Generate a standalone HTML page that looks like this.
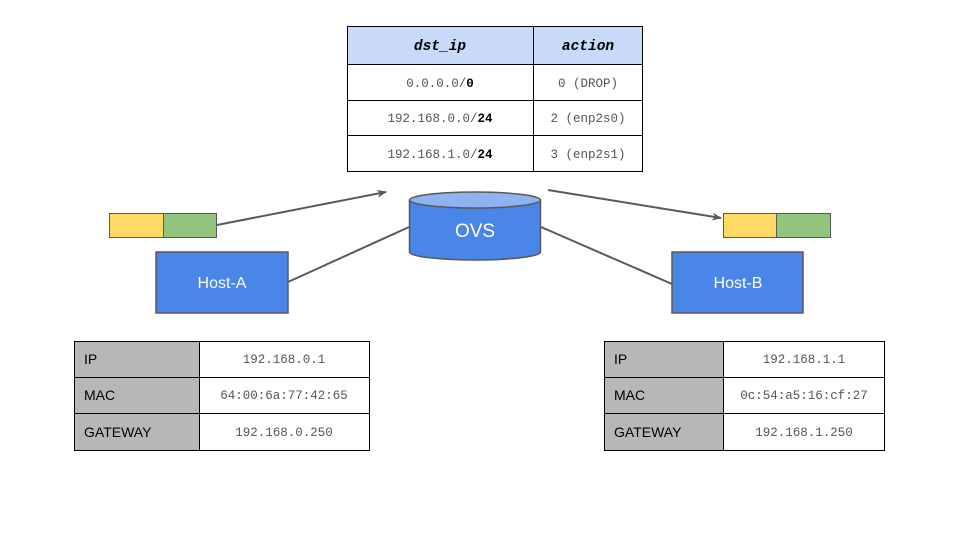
<!DOCTYPE html>
<html><head><meta charset="utf-8"><style>
body{margin:0;background:#fff}
svg{display:block}
.m{font-family:"Liberation Mono",monospace;font-size:12.5px;fill:#555}
.s{font-family:"Liberation Sans",sans-serif}
</style></head><body>
<svg width="960" height="540" viewBox="0 0 960 540" xmlns="http://www.w3.org/2000/svg">
<defs><marker id="a" markerWidth="10" markerHeight="10" refX="9" refY="5" orient="auto" markerUnits="userSpaceOnUse"><path d="M0,1 L10,5 L0,9 L3,5 z" fill="#595959"/></marker></defs>
<rect x="347.5" y="26.5" width="295" height="38" fill="#c9daf8"/>
<g stroke="#000" stroke-width="1" fill="none">
<rect x="347.5" y="26.5" width="295" height="145"/>
<line x1="533.5" y1="26" x2="533.5" y2="172"/>
<line x1="347" y1="64.5" x2="643" y2="64.5"/>
<line x1="347" y1="100.5" x2="643" y2="100.5"/>
<line x1="347" y1="135.5" x2="643" y2="135.5"/>
</g>
<g font-family="Liberation Mono,monospace" font-weight="bold" font-style="italic" font-size="14.5" text-anchor="middle" fill="#000">
<text x="440" y="50">dst_ip</text><text x="588" y="50">action</text></g>
<g class="m" text-anchor="middle">
<text x="440" y="87">0.0.0.0/<tspan font-weight="bold" fill="#000">0</tspan></text>
<text x="440" y="122">192.168.0.0/<tspan font-weight="bold" fill="#000">24</tspan></text>
<text x="440" y="158">192.168.1.0/<tspan font-weight="bold" fill="#000">24</tspan></text>
<text x="588" y="87">0 (DROP)</text>
<text x="588" y="122">2 (enp2s0)</text>
<text x="588" y="158">3 (enp2s1)</text>
</g>
<g stroke="#595959" stroke-width="2" fill="none">
<line x1="217" y1="225" x2="386" y2="192" marker-end="url(#a)"/>
<line x1="548" y1="190" x2="721" y2="218" marker-end="url(#a)"/>
<line x1="288" y1="282" x2="409" y2="227"/>
<line x1="541" y1="227" x2="672" y2="284"/>
</g>
<path d="M409.5,200 L409.5,252 A65.5,8 0 0 0 540.5,252 L540.5,200" fill="#4a86e8" stroke="#595959" stroke-width="1.5"/>
<ellipse cx="475" cy="200" rx="65.5" ry="8" fill="#8fb3f0" stroke="#595959" stroke-width="1.5"/>
<text x="475" y="237" class="s" font-size="19" fill="#fff" text-anchor="middle">OVS</text>
<g stroke="#595959" stroke-width="1">
<rect x="109.5" y="213.5" width="54" height="24" fill="#ffd966"/>
<rect x="163.5" y="213.5" width="53" height="24" fill="#93c47d"/>
<rect x="723.5" y="213.5" width="53" height="24" fill="#ffd966"/>
<rect x="776.5" y="213.5" width="54" height="24" fill="#93c47d"/>
</g>
<g stroke="#595959" stroke-width="1.5" fill="#4a86e8">
<rect x="156" y="252" width="132" height="61"/>
<rect x="672" y="252" width="131" height="61"/>
</g>
<g class="s" font-size="16" fill="#fff" text-anchor="middle">
<text x="222" y="288">Host-A</text><text x="738" y="288">Host-B</text></g>
<rect x="74.5" y="341.5" width="125" height="109" fill="#b7b7b7"/>
<rect x="604.5" y="341.5" width="119" height="109" fill="#b7b7b7"/>
<g stroke="#000" stroke-width="1" fill="none">
<rect x="74.5" y="341.5" width="295" height="109"/>
<line x1="199.5" y1="341" x2="199.5" y2="451"/>
<line x1="74" y1="377.5" x2="370" y2="377.5"/>
<line x1="74" y1="413.5" x2="370" y2="413.5"/>
<rect x="604.5" y="341.5" width="280" height="109"/>
<line x1="723.5" y1="341" x2="723.5" y2="451"/>
<line x1="604" y1="377.5" x2="885" y2="377.5"/>
<line x1="604" y1="413.5" x2="885" y2="413.5"/>
</g>
<g class="s" font-size="14" fill="#000">
<text x="84" y="364">IP</text><text x="84" y="400">MAC</text><text x="84" y="437">GATEWAY</text>
<text x="614" y="364">IP</text><text x="614" y="400">MAC</text><text x="614" y="437">GATEWAY</text>
</g>
<g class="m" text-anchor="middle">
<text x="284" y="363">192.168.0.1</text><text x="284" y="399">64:00:6a:77:42:65</text><text x="284" y="436">192.168.0.250</text>
<text x="804" y="363">192.168.1.1</text><text x="804" y="399">0c:54:a5:16:cf:27</text><text x="804" y="436">192.168.1.250</text>
</g>
</svg>
</body></html>
